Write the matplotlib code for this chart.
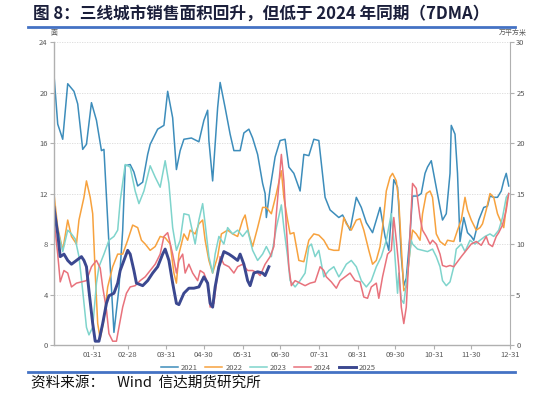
import numpy as np
import matplotlib.pyplot as plt

plt.rcParams['font.family'] = ['Noto Sans CJK SC', 'DejaVu Sans']

# month-end tick labels (x = day of year)
tick_days = [31, 59, 90, 120, 151, 181, 212, 243, 273, 304, 334, 365]
tick_labels = ['01-31', '02-28', '03-31', '04-30', '05-31', '06-30',
               '07-31', '08-31', '09-30', '10-31', '11-30', '12-31']

# 2021
d2021 = [0, 3, 7, 11, 16, 19, 23, 26, 30, 34, 38, 40, 44, 48, 52, 55, 57, 61, 64, 67, 71,
         75, 77, 83, 88, 91, 95, 98, 101, 104, 110, 116, 120, 123, 124, 127, 131, 133,
         137, 141, 144, 149, 152, 156, 159, 163, 167, 169, 170, 173, 177, 181, 185, 188,
         192, 197, 200, 204, 208, 212, 217, 221, 228, 231, 237, 242, 246, 250, 255, 261,
         265, 268, 272, 275, 276, 278, 280, 282, 285, 287, 291, 294, 297, 299, 302, 305,
         309, 311, 314, 317, 318, 321, 323, 325, 328, 331, 334, 336, 340, 344, 347, 349,
         352, 355, 358, 360, 362, 364]
v2021 = [21.4, 17.5, 16.3, 20.7, 20.1, 19.1, 15.5, 15.9, 19.2, 17.8, 15.4, 15.5, 8.0, 1.0,
         4.5, 9.1, 14.2, 14.3, 13.7, 12.6, 12.9, 15.1, 15.9, 17.1, 17.4, 20.1, 18.0, 13.9,
         15.4, 16.3, 16.4, 16.1, 17.8, 18.6, 16.2, 13.0, 18.8, 20.8, 18.8, 16.7, 15.4, 15.4,
         16.8, 17.1, 16.4, 15.1, 12.8, 12.0, 10.1, 12.4, 14.9, 16.2, 16.3, 14.1, 13.6, 12.2,
         15.1, 15.0, 16.3, 16.2, 11.7, 10.7, 10.1, 10.3, 9.1, 11.7, 10.9, 9.7, 8.9, 10.9,
         8.6, 7.5, 13.1, 12.5, 10.9, 7.0, 4.7, 5.3, 8.8, 11.8, 11.8, 12.0, 13.6, 14.1, 14.6,
         13.0, 10.9, 9.9, 10.4, 13.6, 17.4, 16.7, 13.6, 8.2, 10.1, 8.9, 8.6, 8.3, 9.9, 10.9,
         11.0, 11.8, 11.7, 11.7, 12.2, 13.0, 13.6, 12.6]

# 2022
d2022 = [0, 3, 7, 11, 14, 18, 20, 24, 26, 29, 31, 33, 35, 37, 40, 43, 47, 51, 55, 59, 63,
         67, 70, 73, 77, 81, 85, 89, 93, 96, 98, 100, 104, 107, 109, 113, 116, 119, 121,
         124, 127, 131, 134, 139, 143, 147, 151, 153, 156, 159, 163, 167, 170, 174, 178,
         182, 184, 187, 189, 192, 196, 200, 204, 208, 212, 216, 220, 224, 228, 232, 234,
         238, 242, 245, 248, 252, 255, 258, 261, 263, 266, 269, 271, 274, 276, 278, 280,
         282, 285, 287, 290, 293, 295, 298, 301, 303, 306, 309, 313, 315, 320, 323, 326,
         329, 331, 334, 338, 341, 343, 346, 349, 352, 355, 358, 360, 363]
v2022 = [12.0, 9.3, 7.5, 9.9, 8.6, 8.0, 9.9, 11.7, 13.0, 11.7, 10.4, 5.7, 1.7, 0.5, 2.0,
         4.6, 6.2, 7.2, 7.2, 8.3, 9.5, 9.3, 8.3, 8.0, 7.5, 7.8, 8.6, 8.5, 8.0, 5.7, 4.9,
         7.2, 8.8, 8.3, 9.1, 8.8, 9.6, 9.9, 8.3, 6.7, 5.7, 7.0, 8.8, 9.1, 8.8, 8.6, 9.9,
         10.3, 8.8, 7.8, 9.3, 10.9, 10.9, 10.4, 12.0, 13.8, 11.7, 9.9, 8.8, 8.9, 6.7, 6.6,
         8.3, 8.8, 8.7, 8.3, 7.6, 7.5, 7.5, 10.1, 9.6, 9.1, 9.9, 10.0, 9.1, 7.5, 6.4, 6.7,
         7.8, 9.3, 12.2, 13.3, 13.6, 13.0, 11.4, 7.8, 4.3, 4.6, 7.5, 9.1, 8.8, 8.3, 10.4,
         12.0, 12.2, 11.7, 8.8, 8.2, 7.9, 8.3, 8.2, 9.1, 9.9, 11.7, 10.7, 9.9, 9.1, 9.3,
         9.6, 10.7, 12.0, 11.7, 10.4, 9.7, 9.3, 11.7]

# 2023
d2023 = [0, 3, 7, 11, 14, 17, 20, 23, 26, 28, 31, 34, 36, 40, 44, 48, 51, 53, 57, 61, 65,
         68, 72, 77, 81, 85, 89, 92, 95, 98, 101, 104, 108, 113, 116, 119, 121, 124, 127,
         129, 132, 136, 139, 143, 147, 151, 155, 159, 163, 167, 170, 174, 178, 182, 184,
         187, 189, 193, 197, 201, 204, 206, 209, 212, 216, 220, 224, 228, 230, 234, 238,
         242, 246, 250, 254, 258, 262, 266, 270, 272, 275, 276, 278, 280, 283, 286, 287,
         291, 295, 299, 303, 306, 309, 311, 314, 317, 320, 322, 326, 329, 333, 337, 341,
         345, 349, 352, 356, 359, 362, 364]
v2023 = [10.9, 9.1, 7.4, 9.1, 8.8, 8.4, 7.0, 4.3, 1.4, 0.8, 1.4, 4.9, 6.2, 7.2, 8.3, 8.6,
         9.1, 11.4, 14.3, 14.1, 12.2, 11.2, 12.2, 14.2, 13.3, 12.5, 14.6, 12.8, 9.3, 7.5,
         8.3, 10.4, 10.3, 8.0, 9.9, 11.2, 9.6, 7.0, 5.7, 7.2, 8.6, 8.0, 9.3, 8.8, 9.1, 8.6,
         9.1, 7.5, 6.7, 7.2, 7.8, 7.0, 9.3, 11.1, 9.3, 7.0, 5.1, 4.6, 5.1, 5.7, 7.8, 8.0,
         7.0, 7.5, 5.4, 5.9, 6.2, 5.4, 5.7, 6.4, 6.7, 6.2, 5.1, 4.6, 5.1, 6.2, 7.0, 8.3,
         10.4, 8.3, 4.1, 5.7, 3.6, 3.3, 5.7, 8.3, 8.0, 7.6, 7.5, 7.4, 7.6, 7.0, 6.2, 5.1,
         4.7, 5.0, 6.2, 7.6, 8.0, 7.4, 8.3, 8.0, 8.3, 8.6, 8.8, 8.6, 9.1, 10.1, 11.7, 12.0]

# 2024
d2024 = [0, 3, 5, 8, 11, 14, 18, 22, 26, 30, 34, 37, 39, 42, 44, 47, 50, 52, 55, 58, 61,
         65, 69, 73, 77, 81, 85, 88, 91, 95, 98, 100, 103, 105, 108, 111, 115, 117, 120,
         123, 125, 128, 131, 133, 136, 140, 144, 147, 151, 155, 159, 163, 165, 169, 173,
         176, 178, 182, 184, 186, 188, 190, 193, 197, 201, 205, 209, 213, 216, 218, 222,
         226, 229, 233, 237, 241, 245, 248, 251, 254, 258, 260, 263, 267, 270, 272, 274,
         276, 278, 280, 282, 285, 287, 290, 293, 295, 298, 301, 303, 306, 309, 311, 314,
         317, 320, 323, 326, 330, 334, 338, 342, 346, 348, 351, 354, 356, 359, 362, 364]
v2024 = [9.9, 7.2, 5.0, 5.9, 5.7, 4.6, 4.9, 5.0, 5.1, 6.2, 6.7, 6.1, 4.6, 2.8, 0.9, 0.3,
         0.3, 1.4, 3.0, 4.1, 4.6, 4.7, 5.1, 5.4, 5.9, 6.4, 7.2, 8.6, 8.9, 7.2, 5.7, 6.7,
         7.2, 5.7, 6.4, 5.7, 5.1, 5.9, 5.7, 4.9, 3.0, 3.3, 5.7, 7.0, 6.4, 6.2, 5.7, 6.2,
         6.4, 5.9, 5.9, 5.7, 5.5, 6.4, 7.0, 7.8, 10.4, 15.1, 13.0, 9.3, 6.2, 4.7, 5.1, 4.9,
         4.7, 4.9, 5.0, 6.2, 5.9, 5.4, 5.0, 4.5, 5.1, 5.4, 5.7, 5.1, 5.0, 3.8, 3.7, 4.6,
         4.9, 3.7, 5.4, 7.2, 7.5, 10.1, 8.3, 6.2, 3.0, 1.7, 3.0, 8.8, 12.8, 12.4, 10.1, 9.1,
         8.6, 8.0, 8.3, 8.0, 7.2, 6.3, 6.2, 6.3, 6.2, 6.6, 7.0, 7.5, 8.0, 8.2, 7.9, 8.6,
         8.0, 7.8, 8.6, 8.9, 9.5, 10.7, 12.0]

# 2025
d2025 = [0, 3, 5, 8, 11, 14, 18, 22, 24, 26, 28, 31, 33, 36, 39, 42, 44, 48, 51, 53, 56,
         59, 61, 64, 66, 71, 75, 79, 83, 87, 89, 92, 95, 98, 100, 104, 108, 112, 116, 120,
         123, 125, 127, 129, 132, 136, 140, 143, 147, 149, 152, 155, 157, 160, 163, 167,
         169, 172]
v2025 = [10.9, 8.8, 7.0, 7.2, 6.7, 6.4, 6.7, 7.0, 6.7, 6.2, 4.3, 1.7, 0.3, 0.3, 1.7, 3.3,
         3.9, 4.1, 4.9, 5.9, 6.7, 7.5, 7.2, 5.9, 4.9, 4.7, 5.1, 5.7, 6.2, 7.2, 7.6, 6.7,
         4.9, 3.3, 3.2, 4.1, 4.5, 4.5, 4.6, 5.4, 4.9, 3.3, 3.0, 4.6, 6.2, 7.4, 7.2, 7.0,
         6.7, 7.2, 6.4, 5.1, 4.7, 5.7, 5.8, 5.7, 5.5, 6.2]

series = [
    ('2021', d2021, v2021, '#3d8dbb', 1.1),
    ('2022', d2022, v2022, '#f7a23e', 1.1),
    ('2023', d2023, v2023, '#7fd4cc', 1.1),
    ('2024', d2024, v2024, '#e8727c', 1.1),
    ('2025', d2025, v2025, '#3b4890', 2.1),
]

fig = plt.figure(figsize=(5.43, 3.97), dpi=100)
ax = fig.add_axes([0.0994, 0.131, 0.8398, 0.763])

for name, d, v, c, lw in series:
    ax.plot(d, v, color=c, lw=lw, label=name)

ax.set_xlim(0, 365)
ax.set_ylim(0, 24)
ax.set_yticks(np.arange(0, 25, 4))
ax.set_xticks(tick_days)
ax.set_xticklabels(tick_labels)
for y in range(4, 25, 4):
    ax.axhline(y, color='#d9d9d9', lw=0.6, ls=(0, (1.5, 1.5)), zorder=0)

for s in ['top', 'right']:
    ax.spines[s].set_visible(False)
for s in ['left', 'bottom']:
    ax.spines[s].set_color('#b0b0b0')
    ax.spines[s].set_linewidth(1.0)
ax.tick_params(axis='both', colors='#b0b0b0', labelcolor='#595959', labelsize=5.5,
               length=3, width=0.8, pad=1.5)

ax2 = ax.twinx()
ax2.set_ylim(0, 30)
ax2.set_yticks(np.arange(0, 31, 5))
for s in ['top', 'left', 'bottom']:
    ax2.spines[s].set_visible(False)
ax2.spines['right'].set_color('#b0b0b0')
ax2.tick_params(axis='y', colors='#b0b0b0', labelcolor='#595959', labelsize=5.5,
                length=3, width=0.8, pad=1.5)

fig.text(0.0994, 0.906, '面', fontsize=5, color='#595959', ha='center', va='bottom')
fig.text(0.945, 0.906, '万平方米', fontsize=5, color='#595959', ha='center', va='bottom')

ax.legend(loc='upper center', bbox_to_anchor=(0.47, -0.045), ncol=5, frameon=False,
          fontsize=5.5, handlelength=2.2, handletextpad=0.4, columnspacing=1.0,
          labelcolor='#595959', borderpad=0.2)

# title and frame lines
fig.text(0.06, 0.965, '图 8：三线城市销售面积回升，但低于 2024 年同期（7DMA）',
         fontsize=12, fontweight='bold', color='#1b1f3b', va='center', ha='left')
fig.add_artist(plt.Line2D([0.052, 0.948], [0.932, 0.932], color='#4472c4', lw=2))
fig.add_artist(plt.Line2D([0.052, 0.948], [0.063, 0.063], color='#4472c4', lw=2))
fig.text(0.057, 0.035, '资料来源：    Wind  信达期货研究所', fontsize=10.5,
         color='#111111', va='center', ha='left', style='italic')

fig.savefig('out.png', dpi=100)
